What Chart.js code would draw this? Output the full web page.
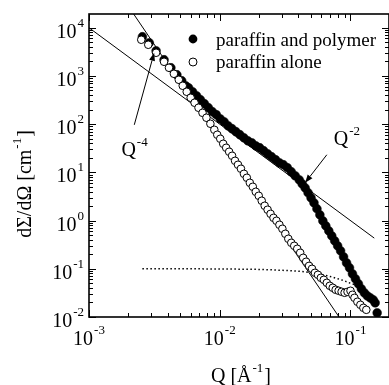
<!DOCTYPE html>
<html>
<head>
<meta charset="utf-8">
<script src="https://cdn.jsdelivr.net/npm/chart.js@4.4.0/dist/chart.umd.min.js"></script>
<style>
  html, body { margin: 0; padding: 0; background: #fff; overflow: hidden; }
  #c { display: block; }
</style>
</head>
<body>
<canvas id="c" width="394" height="385"></canvas>
<script>
// values (Q in 1/A, dSigma/dOmega in 1/cm)
const qAlone = [0.00251, 0.00284, 0.00326, 0.00375, 0.00409, 0.00446, 0.00486, 0.00521, 0.00559, 0.00599,
  0.00642, 0.00688, 0.00738, 0.00791, 0.00848, 0.00909, 0.00957, 0.01009, 0.01063, 0.0112,
  0.0118, 0.01243, 0.01309, 0.01379, 0.01453, 0.01531, 0.01612, 0.01699, 0.0179, 0.01886,
  0.01987, 0.02094, 0.02206, 0.02323, 0.02447, 0.02577, 0.02715, 0.02861, 0.03013, 0.03174,
  0.03345, 0.03524, 0.03713, 0.03914, 0.04124, 0.04345, 0.04577, 0.0482, 0.05078, 0.05348,
  0.05634, 0.05935, 0.06252, 0.06588, 0.0694, 0.07311, 0.07701, 0.08114, 0.08551, 0.09012,
  0.09493, 0.1, 0.1035, 0.1072, 0.1129, 0.119, 0.1254, 0.1321];
const iAlone = [5640, 4440, 3030, 1970, 1480, 1110, 834, 626, 470, 353,
  278, 219, 172, 136, 102, 76.5, 60.3, 49.8, 39.2, 32.4,
  26.8, 22.1, 17.4, 14.4, 11.9, 9.35, 7.73, 6.08, 5.03, 3.96,
  3.27, 2.58, 2.03, 1.68, 1.38, 1.14, 0.99, 0.818, 0.676, 0.532,
  0.419, 0.346, 0.3, 0.26, 0.215, 0.169, 0.14, 0.115, 0.1, 0.0826,
  0.0751, 0.065, 0.0591, 0.0512, 0.0444, 0.0404, 0.0367, 0.035, 0.0333, 0.0318,
  0.0333, 0.035, 0.0289, 0.025, 0.0207, 0.0179, 0.0155, 0.0141];

const qPolymer = [0.00256, 0.00289, 0.00326, 0.00375, 0.00423, 0.0047, 0.00512, 0.00549, 0.00578, 0.0062,
  0.00665, 0.00712, 0.00764, 0.00819, 0.00878, 0.00941, 0.01009, 0.01081, 0.01159, 0.01243,
  0.01332, 0.01428, 0.01531, 0.01641, 0.01759, 0.01886, 0.02022, 0.02168, 0.02323, 0.0249,
  0.02668, 0.02861, 0.03066, 0.03286, 0.03524, 0.03778, 0.04053, 0.04269, 0.04497, 0.04738,
  0.04991, 0.05257, 0.05537, 0.05832, 0.06145, 0.06474, 0.06822, 0.07188, 0.07569, 0.07973,
  0.08401, 0.08851, 0.09327, 0.09828, 0.1035, 0.1091, 0.1149, 0.1211, 0.1276, 0.1344,
  0.1416, 0.1492, 0.1544, 0.1599];
const iPolymer = [6510, 4880, 3330, 2170, 1480, 1059, 795, 626, 569, 470,
  388, 321, 265, 219, 181, 157, 129, 112, 92.6, 80.3,
  69.6, 60.3, 52.2, 45.2, 41.1, 35.6, 32.4, 28.1, 24.3, 21.1,
  18.3, 15.8, 14.4, 12.5, 10.3, 8.5, 7.02, 5.8, 4.79, 3.78,
  2.97, 2.34, 1.76, 1.32, 0.99, 0.78, 0.614, 0.484, 0.381, 0.3,
  0.236, 0.177, 0.133, 0.105, 0.0788, 0.062, 0.0489, 0.0385, 0.0318, 0.0275,
  0.025, 0.0227, 0.0197, 0.0122];

// guide lines
const qSlope2 = [0.001, 0.152];
const iSlope2 = [10000, 0.433];
const qSlope4 = [0.002, 0.125];
const iSlope4 = [28000, 0.00183];
const qDotted = [0.00256, 0.005, 0.01, 0.02, 0.03, 0.04, 0.05, 0.06, 0.07, 0.08, 0.09, 0.1, 0.11, 0.12, 0.134];
const iDotted = [0.1, 0.1, 0.099, 0.097, 0.093, 0.089, 0.083, 0.077, 0.069, 0.062, 0.056, 0.05, 0.046, 0.041, 0.036];

// axis decades (tick labels are 10^e)
const xExps = [-3, -2, -1];
const yExps = [-2, -1, 0, 1, 2, 3, 4];

const SERIF = "'Liberation Serif', 'Times New Roman', 'DejaVu Serif', serif";

const xy = (qs, is) => qs.map((q, k) => ({ x: q, y: is[k] }));

// draws text made of pieces (base + superscripts)
function drawRich(ctx, parts, x, y, align) {
  let total = 0;
  const widths = parts.map(p => {
    ctx.font = p.size + 'px ' + SERIF;
    const w = ctx.measureText(p.t).width;
    total += w + (p.gap || 0);
    return w;
  });
  let cx = align === 'right' ? x - total : align === 'center' ? x - total / 2 : x;
  ctx.textAlign = 'left';
  ctx.textBaseline = 'alphabetic';
  parts.forEach((p, k) => {
    cx += p.gap || 0;
    ctx.font = p.size + 'px ' + SERIF;
    ctx.fillText(p.t, cx, y - (p.rise || 0));
    cx += widths[k];
  });
}
const pow10 = e => [{ t: '10', size: 20 }, { t: String(e), size: 13, rise: 11, gap: 1 }];

function arrow(ctx, x1, y1, x2, y2) {
  const ang = Math.atan2(y2 - y1, x2 - x1);
  const L = 8, W = 3;
  ctx.beginPath();
  ctx.moveTo(x1, y1);
  ctx.lineTo(x2 - L * Math.cos(ang), y2 - L * Math.sin(ang));
  ctx.stroke();
  ctx.beginPath();
  ctx.moveTo(x2, y2);
  ctx.lineTo(x2 - L * Math.cos(ang) + W * Math.sin(ang), y2 - L * Math.sin(ang) - W * Math.cos(ang));
  ctx.lineTo(x2 - L * Math.cos(ang) - W * Math.sin(ang), y2 - L * Math.sin(ang) + W * Math.cos(ang));
  ctx.closePath();
  ctx.fill();
}

const arrows = [
  { from: [0.00222, 97], to: [0.00315, 3030] },
  { from: [0.0659, 23.2], to: [0.045, 6.1] }
];
const slopeLabels = [
  { q: 0.00177, i: 22.1, e: '-4' },
  { q: 0.0745, i: 37.4, e: '-2' }
];

const framePlugin = {
  id: 'frame',
  afterDraw(chart) {
    const { ctx, chartArea: a, scales: { x, y } } = chart;
    ctx.save();
    ctx.strokeStyle = '#000';
    ctx.fillStyle = '#000';

    // ticks (inward, on all four sides)
    ctx.lineWidth = 1;
    ctx.beginPath();
    for (const e of xExps) {
      for (let m = 1; m <= 9; m++) {
        const v = m * Math.pow(10, e);
        if (v > x.max) break;
        const px = Math.round(x.getPixelForValue(v)) + 0.5;
        const len = m === 1 ? 7 : 4;
        ctx.moveTo(px, a.bottom); ctx.lineTo(px, a.bottom - len);
        ctx.moveTo(px, a.top); ctx.lineTo(px, a.top + len);
      }
    }
    for (const e of yExps) {
      for (let m = 1; m <= 9; m++) {
        const v = m * Math.pow(10, e);
        if (v > y.max) break;
        const py = Math.round(y.getPixelForValue(v)) + 0.5;
        const len = m === 1 ? 7 : 4;
        ctx.moveTo(a.left, py); ctx.lineTo(a.left + len, py);
        ctx.moveTo(a.right, py); ctx.lineTo(a.right - len, py);
      }
    }
    ctx.stroke();

    ctx.lineWidth = 1.6;
    ctx.strokeRect(a.left, a.top, a.right - a.left, a.bottom - a.top);

    // tick labels
    for (const e of yExps) {
      drawRich(ctx, pow10(e), a.left - 5, y.getPixelForValue(Math.pow(10, e)) + 10, 'right');
    }
    for (const e of xExps) {
      drawRich(ctx, pow10(e), x.getPixelForValue(Math.pow(10, e)), a.bottom + 28, 'center');
    }

    // axis titles
    drawRich(ctx, [
      { t: 'Q [\u00C5', size: 20 },
      { t: '-1', size: 13, rise: 10, gap: 1 },
      { t: ']', size: 20, gap: 1 }
    ], 241, 382, 'center');
    ctx.save();
    ctx.translate(31, 184);
    ctx.rotate(-Math.PI / 2);
    drawRich(ctx, [
      { t: 'd\u03A3/d\u03A9 [cm', size: 20 },
      { t: '-1', size: 13, rise: 10, gap: 1 },
      { t: ']', size: 20, gap: 1 }
    ], 0, 0, 'center');
    ctx.restore();

    // slope annotations
    ctx.lineWidth = 1;
    for (const ar of arrows) {
      arrow(ctx,
        x.getPixelForValue(ar.from[0]), y.getPixelForValue(ar.from[1]),
        x.getPixelForValue(ar.to[0]), y.getPixelForValue(ar.to[1]));
    }
    for (const s of slopeLabels) {
      drawRich(ctx, [{ t: 'Q', size: 20 }, { t: s.e, size: 13, rise: 10, gap: 1 }],
        x.getPixelForValue(s.q), y.getPixelForValue(s.i), 'left');
    }

    // legend
    const lx = a.left + 104;
    ctx.beginPath();
    ctx.arc(lx, a.top + 25, 4.4, 0, Math.PI * 2);
    ctx.fill();
    ctx.beginPath();
    ctx.arc(lx, a.top + 48, 4, 0, Math.PI * 2);
    ctx.fillStyle = '#fff';
    ctx.fill();
    ctx.stroke();
    ctx.fillStyle = '#000';
    ctx.font = '19px ' + SERIF;
    ctx.textAlign = 'left';
    ctx.textBaseline = 'alphabetic';
    ctx.fillText('paraffin and polymer', lx + 23, a.top + 32);
    ctx.fillText('paraffin alone', lx + 23, a.top + 54);
    ctx.restore();
  }
};

new Chart(document.getElementById('c'), {
  type: 'scatter',
  data: {
    datasets: [
      {
        label: 'paraffin alone',
        data: xy(qAlone, iAlone),
        pointRadius: 3.8,
        pointBackgroundColor: '#fff',
        pointBorderColor: '#000',
        pointBorderWidth: 1,
        order: 1
      },
      {
        label: 'paraffin and polymer',
        data: xy(qPolymer, iPolymer),
        pointRadius: 4.4,
        pointBackgroundColor: '#000',
        pointBorderColor: '#000',
        pointBorderWidth: 0.5,
        order: 2
      },
      {
        label: 'Q-2',
        data: xy(qSlope2, iSlope2),
        showLine: true,
        pointRadius: 0,
        borderColor: '#000',
        borderWidth: 1,
        order: 3
      },
      {
        label: 'Q-4',
        data: xy(qSlope4, iSlope4),
        showLine: true,
        pointRadius: 0,
        borderColor: '#000',
        borderWidth: 1,
        order: 4
      },
      {
        label: 'dotted',
        data: xy(qDotted, iDotted),
        showLine: true,
        pointRadius: 0,
        borderColor: '#000',
        borderWidth: 1.5,
        borderDash: [1.5, 2.5],
        cubicInterpolationMode: 'monotone',
        order: 5
      }
    ]
  },
  options: {
    responsive: false,
    devicePixelRatio: 1,
    animation: false,
    events: [],
    layout: { padding: { left: 89, top: 14, right: 1, bottom: 68 } },
    plugins: { legend: { display: false }, tooltip: { enabled: false } },
    scales: {
      x: { type: 'logarithmic', min: 0.001, max: 0.197, display: false },
      y: { type: 'logarithmic', min: 0.01, max: 19300, display: false }
    }
  },
  plugins: [framePlugin]
});
</script>
</body>
</html>
